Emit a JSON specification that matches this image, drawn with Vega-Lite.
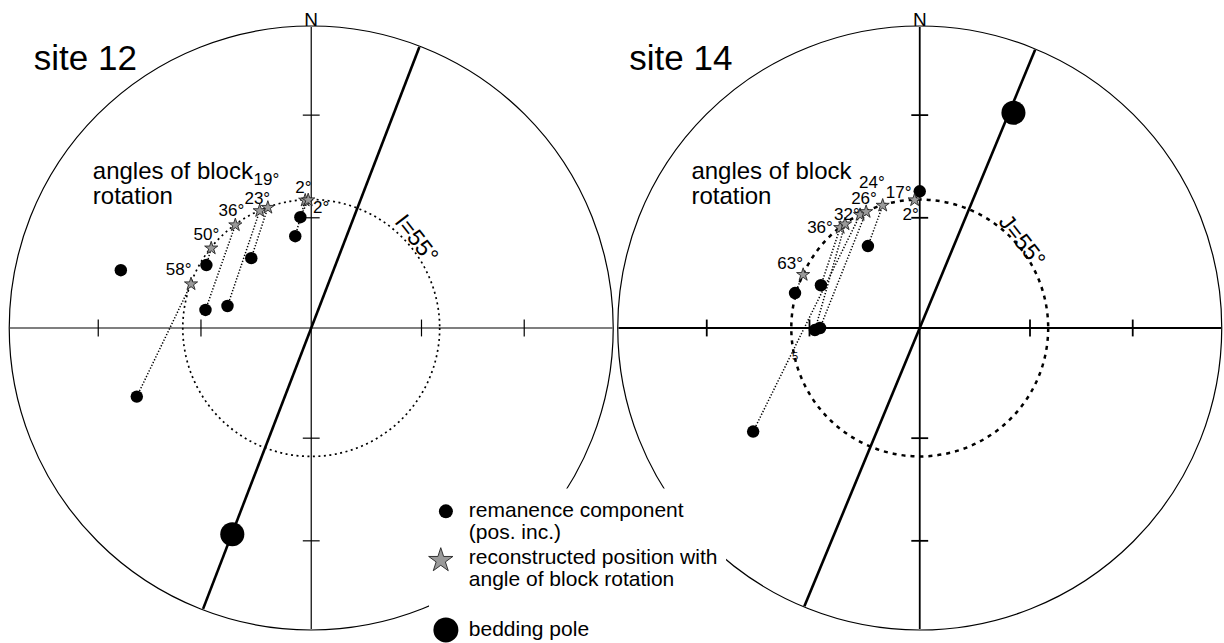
{
  "$schema": "https://vega.github.io/schema/vega-lite/v6.json",
  "width": 1224,
  "height": 643,
  "autosize": {"type": "fit", "contains": "padding"},
  "padding": 0,
  "background": "white",
  "config": {"view": {"stroke": null}, "font": "Liberation Sans"},
  "resolve": {"scale": {"x": "independent"}},
  "layer": [
    {
      "encoding": {
        "x": {"field": "x", "type": "quantitative", "scale": {"domain": [-1.0331, 3.0199], "nice": false, "zero": false}, "axis": null},
        "y": {"field": "y", "type": "quantitative", "scale": {"domain": [-1.0397, 1.0894], "nice": false, "zero": false}, "axis": null}
      },
      "layer": [
        {
          "data": {"values": [{"x": 0, "y": 0}]},
          "mark": {"type": "point", "shape": "circle", "filled": false, "size": 364816, "stroke": "black", "strokeWidth": 1.2, "opacity": 1}
        },
        {
          "data": {"values": [{"x": 0, "y": 0}]},
          "mark": {"type": "point", "shape": "circle", "filled": false, "size": 65995, "stroke": "black", "strokeWidth": 1.7, "strokeDash": [2, 3.5], "opacity": 1}
        },
        {
          "data": {"values": [
            {"x": -1, "y": 0, "x2": 1, "y2": 0},
            {"x": 0, "y": -1, "x2": 0, "y2": 1},
            {"x": -0.707, "y": -0.028, "x2": -0.707, "y2": 0.028},
            {"x": -0.366, "y": -0.028, "x2": -0.366, "y2": 0.028},
            {"x": 0.366, "y": -0.028, "x2": 0.366, "y2": 0.028},
            {"x": 0.707, "y": -0.028, "x2": 0.707, "y2": 0.028},
            {"x": -0.028, "y": -0.707, "x2": 0.028, "y2": -0.707},
            {"x": -0.028, "y": -0.366, "x2": 0.028, "y2": -0.366},
            {"x": -0.028, "y": 0.366, "x2": 0.028, "y2": 0.366},
            {"x": -0.028, "y": 0.707, "x2": 0.028, "y2": 0.707}
          ]},
          "mark": {"type": "rule", "color": "black", "strokeWidth": 1.2},
          "encoding": {"x2": {"field": "x2"}, "y2": {"field": "y2"}}
        },
        {
          "data": {"values": [{"x": 0.359, "y": 0.933, "x2": -0.359, "y2": -0.933}]},
          "mark": {"type": "rule", "color": "black", "strokeWidth": 2.6},
          "encoding": {"x2": {"field": "x2"}, "y2": {"field": "y2"}}
        },
        {
          "data": {"values": [
            {"x": -0.579, "y": -0.228, "x2": -0.399, "y2": 0.146},
            {"x": -0.348, "y": 0.209, "x2": -0.332, "y2": 0.265},
            {"x": -0.351, "y": 0.060, "x2": -0.252, "y2": 0.342},
            {"x": -0.278, "y": 0.073, "x2": -0.171, "y2": 0.389},
            {"x": -0.199, "y": 0.232, "x2": -0.144, "y2": 0.400},
            {"x": -0.053, "y": 0.305, "x2": -0.020, "y2": 0.424},
            {"x": -0.036, "y": 0.368, "x2": -0.010, "y2": 0.425}
          ]},
          "mark": {"type": "rule", "color": "black", "strokeWidth": 1.5, "strokeDash": [1.3, 1.8]},
          "encoding": {"x2": {"field": "x2"}, "y2": {"field": "y2"}}
        },
        {
          "data": {"values": [
            {"x": -0.632, "y": 0.192}, {"x": -0.348, "y": 0.209}, {"x": -0.351, "y": 0.060},
            {"x": -0.278, "y": 0.073}, {"x": -0.199, "y": 0.232}, {"x": -0.053, "y": 0.305},
            {"x": -0.036, "y": 0.368}, {"x": -0.579, "y": -0.228}
          ]},
          "mark": {"type": "point", "shape": "circle", "filled": true, "size": 155, "color": "black", "opacity": 1}
        },
        {
          "data": {"values": [{"x": -0.262, "y": -0.685}]},
          "mark": {"type": "point", "shape": "circle", "filled": true, "size": 580, "color": "black", "opacity": 1}
        },
        {
          "data": {"values": [
            {"x": -0.399, "y": 0.146, "rot": 58}, {"x": -0.332, "y": 0.265, "rot": 50},
            {"x": -0.252, "y": 0.342, "rot": 36}, {"x": -0.171, "y": 0.389, "rot": 23},
            {"x": -0.144, "y": 0.400, "rot": 19}, {"x": -0.020, "y": 0.424, "rot": 2},
            {"x": -0.010, "y": 0.425, "rot": 2}
          ]},
          "mark": {"type": "point", "shape": "M0,-1L0.2245,-0.309L0.951,-0.309L0.363,0.118L0.588,0.809L0,0.382L-0.588,0.809L-0.363,0.118L-0.951,-0.309L-0.2245,-0.309Z", "filled": true, "size": 190, "fill": "#9a9a9a", "stroke": "#222222", "strokeWidth": 0.9, "opacity": 1}
        },
        {
          "data": {"values": [
            {"x": -0.149, "y": 0.493, "label": "19°"}, {"x": -0.179, "y": 0.430, "label": "23°"},
            {"x": -0.265, "y": 0.387, "label": "36°"}, {"x": -0.348, "y": 0.308, "label": "50°"},
            {"x": -0.440, "y": 0.192, "label": "58°"}, {"x": -0.026, "y": 0.464, "label": "2°"},
            {"x": 0.033, "y": 0.397, "label": "2°"}
          ]},
          "mark": {"type": "text", "fontSize": 17, "align": "center", "baseline": "middle", "color": "black"},
          "encoding": {"text": {"field": "label"}}
        },
        {
          "data": {"values": [{"x": -0.725, "y": 0.517, "label": "angles of block"}, {"x": -0.725, "y": 0.434, "label": "rotation"}]},
          "mark": {"type": "text", "fontSize": 24, "align": "left", "baseline": "middle", "color": "black"},
          "encoding": {"text": {"field": "label"}}
        },
        {
          "data": {"values": [{"x": -0.921, "y": 0.858, "label": "site 12"}]},
          "mark": {"type": "text", "fontSize": 35, "align": "left", "baseline": "alphabetic", "color": "black"},
          "encoding": {"text": {"field": "label"}}
        },
        {
          "data": {"values": [{"x": 0, "y": 1.003, "label": "N"}]},
          "mark": {"type": "text", "fontSize": 19, "align": "center", "baseline": "alphabetic", "color": "black"},
          "encoding": {"text": {"field": "label"}}
        },
        {
          "data": {"values": [{"x": 0.348, "y": 0.295, "label": "I=55°"}]},
          "mark": {"type": "text", "fontSize": 23, "align": "center", "baseline": "middle", "angle": 52, "color": "black"},
          "encoding": {"text": {"field": "label"}}
        }
      ]
    },
    {
      "encoding": {
        "x": {"field": "x", "type": "quantitative", "scale": {"domain": [-3.053, 1.0], "nice": false, "zero": false}, "axis": null},
        "y": {"field": "y", "type": "quantitative", "scale": {"domain": [-1.0397, 1.0894], "nice": false, "zero": false}, "axis": null}
      },
      "layer": [
        {
          "data": {"values": [{"x": 0, "y": 0}]},
          "mark": {"type": "point", "shape": "circle", "filled": false, "size": 364816, "stroke": "black", "strokeWidth": 1.2, "opacity": 1}
        },
        {
          "data": {"values": [{"x": 0, "y": 0}]},
          "mark": {"type": "point", "shape": "circle", "filled": false, "size": 65995, "stroke": "black", "strokeWidth": 2.5, "strokeDash": [4, 5], "opacity": 1}
        },
        {
          "data": {"values": [
            {"x": -1, "y": 0, "x2": 1, "y2": 0},
            {"x": 0, "y": -1, "x2": 0, "y2": 1},
            {"x": -0.707, "y": -0.028, "x2": -0.707, "y2": 0.028},
            {"x": -0.366, "y": -0.028, "x2": -0.366, "y2": 0.028},
            {"x": 0.366, "y": -0.028, "x2": 0.366, "y2": 0.028},
            {"x": 0.707, "y": -0.028, "x2": 0.707, "y2": 0.028},
            {"x": -0.028, "y": -0.707, "x2": 0.028, "y2": -0.707},
            {"x": -0.028, "y": -0.366, "x2": 0.028, "y2": -0.366},
            {"x": -0.028, "y": 0.366, "x2": 0.028, "y2": 0.366},
            {"x": -0.028, "y": 0.707, "x2": 0.028, "y2": 0.707}
          ]},
          "mark": {"type": "rule", "color": "black", "strokeWidth": 1.8},
          "encoding": {"x2": {"field": "x2"}, "y2": {"field": "y2"}}
        },
        {
          "data": {"values": [{"x": 0.383, "y": 0.924, "x2": -0.383, "y2": -0.924}]},
          "mark": {"type": "rule", "color": "black", "strokeWidth": 2.6},
          "encoding": {"x2": {"field": "x2"}, "y2": {"field": "y2"}}
        },
        {
          "data": {"values": [
            {"x": -0.414, "y": 0.116, "x2": -0.387, "y2": 0.177},
            {"x": -0.328, "y": 0.142, "x2": -0.264, "y2": 0.333},
            {"x": -0.553, "y": -0.344, "x2": -0.198, "y2": 0.376},
            {"x": -0.348, "y": -0.007, "x2": -0.248, "y2": 0.345},
            {"x": -0.331, "y": 0.000, "x2": -0.178, "y2": 0.386},
            {"x": -0.172, "y": 0.272, "x2": -0.123, "y2": 0.407},
            {"x": 0.000, "y": 0.454, "x2": -0.017, "y2": 0.425}
          ]},
          "mark": {"type": "rule", "color": "black", "strokeWidth": 1.5, "strokeDash": [1.3, 1.8]},
          "encoding": {"x2": {"field": "x2"}, "y2": {"field": "y2"}}
        },
        {
          "data": {"values": [
            {"x": 0.000, "y": 0.454}, {"x": -0.172, "y": 0.272}, {"x": -0.328, "y": 0.142},
            {"x": -0.414, "y": 0.116}, {"x": -0.348, "y": -0.007}, {"x": -0.331, "y": 0.000},
            {"x": -0.553, "y": -0.344}
          ]},
          "mark": {"type": "point", "shape": "circle", "filled": true, "size": 155, "color": "black", "opacity": 1}
        },
        {
          "data": {"values": [{"x": 0.311, "y": 0.715}]},
          "mark": {"type": "point", "shape": "circle", "filled": true, "size": 580, "color": "black", "opacity": 1}
        },
        {
          "data": {"values": [
            {"x": -0.387, "y": 0.177, "rot": 63}, {"x": -0.264, "y": 0.333, "rot": 36},
            {"x": -0.248, "y": 0.345, "rot": 32}, {"x": -0.198, "y": 0.376, "rot": 29},
            {"x": -0.178, "y": 0.386, "rot": 26}, {"x": -0.123, "y": 0.407, "rot": 24},
            {"x": -0.017, "y": 0.425, "rot": 17}
          ]},
          "mark": {"type": "point", "shape": "M0,-1L0.2245,-0.309L0.951,-0.309L0.363,0.118L0.588,0.809L0,0.382L-0.588,0.809L-0.363,0.118L-0.951,-0.309L-0.2245,-0.309Z", "filled": true, "size": 190, "fill": "#9a9a9a", "stroke": "#222222", "strokeWidth": 0.9, "opacity": 1}
        },
        {
          "data": {"values": [
            {"x": -0.159, "y": 0.483, "label": "24°"}, {"x": -0.185, "y": 0.427, "label": "26°"},
            {"x": -0.070, "y": 0.450, "label": "17°"}, {"x": -0.242, "y": 0.374, "label": "32°"},
            {"x": -0.331, "y": 0.331, "label": "36°"}, {"x": -0.430, "y": 0.212, "label": "63°"},
            {"x": -0.030, "y": 0.374, "label": "2°"}
          ]},
          "mark": {"type": "text", "fontSize": 17, "align": "center", "baseline": "middle", "color": "black"},
          "encoding": {"text": {"field": "label"}}
        },
        {
          "data": {"values": [{"x": -0.414, "y": -0.096, "label": "5"}]},
          "mark": {"type": "text", "fontSize": 11, "align": "center", "baseline": "middle", "color": "black"},
          "encoding": {"text": {"field": "label"}}
        },
        {
          "data": {"values": [{"x": -0.758, "y": 0.517, "label": "angles of block"}, {"x": -0.758, "y": 0.434, "label": "rotation"}]},
          "mark": {"type": "text", "fontSize": 24, "align": "left", "baseline": "middle", "color": "black"},
          "encoding": {"text": {"field": "label"}}
        },
        {
          "data": {"values": [{"x": -0.964, "y": 0.858, "label": "site 14"}]},
          "mark": {"type": "text", "fontSize": 35, "align": "left", "baseline": "alphabetic", "color": "black"},
          "encoding": {"text": {"field": "label"}}
        },
        {
          "data": {"values": [{"x": 0, "y": 1.003, "label": "N"}]},
          "mark": {"type": "text", "fontSize": 19, "align": "center", "baseline": "alphabetic", "color": "black"},
          "encoding": {"text": {"field": "label"}}
        },
        {
          "data": {"values": [{"x": 0.338, "y": 0.288, "label": "J=55°"}]},
          "mark": {"type": "text", "fontSize": 23, "align": "center", "baseline": "middle", "angle": 52, "color": "black"},
          "encoding": {"text": {"field": "label"}}
        }
      ]
    },
    {
      "encoding": {
        "x": {"field": "x", "type": "quantitative", "scale": {"domain": [-1.0331, 3.0199], "nice": false, "zero": false}, "axis": null},
        "y": {"field": "y", "type": "quantitative", "scale": {"domain": [-1.0397, 1.0894], "nice": false, "zero": false}, "axis": null}
      },
      "layer": [
        {
          "data": {"values": [{"x": 0.391, "y": -0.533, "x2": 1.377, "y2": -1.04}]},
          "mark": {"type": "rect", "fill": "white", "stroke": null},
          "encoding": {"x2": {"field": "x2"}, "y2": {"field": "y2"}}
        },
        {
          "data": {"values": [{"x": 0.447, "y": -0.609}]},
          "mark": {"type": "point", "shape": "circle", "filled": true, "size": 196, "color": "black", "opacity": 1}
        },
        {
          "data": {"values": [{"x": 0.430, "y": -0.772}]},
          "mark": {"type": "point", "shape": "M0,-1L0.2245,-0.309L0.951,-0.309L0.363,0.118L0.588,0.809L0,0.382L-0.588,0.809L-0.363,0.118L-0.951,-0.309L-0.2245,-0.309Z", "filled": true, "size": 650, "fill": "#9a9a9a", "stroke": "#222222", "strokeWidth": 0.9, "opacity": 1}
        },
        {
          "data": {"values": [{"x": 0.447, "y": -1.003}]},
          "mark": {"type": "point", "shape": "circle", "filled": true, "size": 625, "color": "black", "opacity": 1}
        },
        {
          "data": {"values": [
            {"x": 0.523, "y": -0.609, "label": "remanence component"},
            {"x": 0.523, "y": -0.682, "label": "(pos. inc.)"},
            {"x": 0.523, "y": -0.765, "label": "reconstructed position with"},
            {"x": 0.523, "y": -0.838, "label": "angle of block rotation"},
            {"x": 0.523, "y": -1.003, "label": "bedding pole"}
          ]},
          "mark": {"type": "text", "fontSize": 21, "align": "left", "baseline": "middle", "color": "black"},
          "encoding": {"text": {"field": "label"}}
        }
      ]
    }
  ]
}
